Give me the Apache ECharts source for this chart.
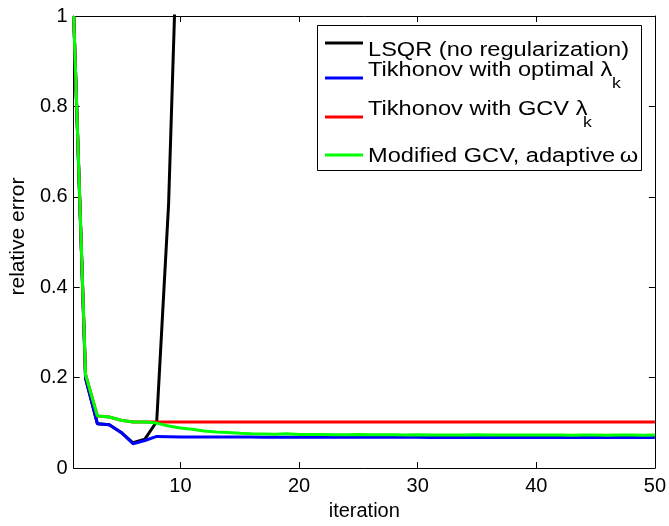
<!DOCTYPE html>
<html>
<head>
<meta charset="utf-8">
<script src="https://cdn.jsdelivr.net/npm/echarts@6/dist/echarts.min.js"></script>
<style>
html,body{margin:0;padding:0;background:#fff;}
#c{width:669px;height:526px;}
</style>
</head>
<body>
<div id="c"></div>
<script>
// ---- data ----
const iterations = [1,2,3,4,5,6,7,8,9,10,11,12,13,14,15,16,17,18,19,20,21,22,23,24,25,26,27,28,29,30,31,32,33,34,35,36,37,38,39,40,41,42,43,44,45,46,47,48,49,50];
const lsqr = [1.0,0.198,0.098,0.096,0.079,0.056,0.064,0.103,0.584,1.42];
const tikhOptimal = [1.0,0.199,0.098,0.096,0.079,0.054,0.061,0.0700,0.0695,0.0690,0.0690,0.0690,0.0688,0.0688,0.0686,0.0686,0.0685,0.0685,0.0684,0.0684,0.0683,0.0683,0.0682,0.0682,0.0681,0.0681,0.0680,0.0680,0.0680,0.0680,0.0679,0.0679,0.0679,0.0679,0.0678,0.0678,0.0678,0.0678,0.0678,0.0678,0.0677,0.0677,0.0677,0.0677,0.0677,0.0677,0.0677,0.0677,0.0677,0.0677];
const tikhGCV = [1.0,0.207,0.115,0.113,0.106,0.102,0.102,0.1017,0.1017,0.1017,0.1017,0.1017,0.1017,0.1017,0.1017,0.1017,0.1017,0.1017,0.1017,0.1017,0.1017,0.1017,0.1017,0.1017,0.1017,0.1017,0.1017,0.1017,0.1017,0.1017,0.1017,0.1017,0.1017,0.1017,0.1017,0.1017,0.1017,0.1017,0.1017,0.1017,0.1017,0.1017,0.1017,0.1017,0.1017,0.1017,0.1017,0.1017,0.1017,0.1017];
const modGCV = [1.0,0.207,0.115,0.113,0.106,0.102,0.102,0.0995,0.093,0.0886,0.0857,0.082,0.080,0.0785,0.077,0.0762,0.0756,0.075,0.0762,0.0745,0.0742,0.0745,0.074,0.0738,0.0742,0.0736,0.0735,0.0737,0.0733,0.0735,0.0732,0.0734,0.0731,0.0733,0.0736,0.0731,0.073,0.0732,0.073,0.0733,0.0731,0.073,0.0729,0.0731,0.073,0.0729,0.073,0.0731,0.0729,0.073];
const xTicks = [10,20,30,40,50];
const yTicks = [0,0.2,0.4,0.6,0.8,1];
const seriesNames = ['LSQR (no regularization)','Tikhonov with optimal λk','Tikhonov with GCV λk','Modified GCV, adaptive ω'];
const legendMain = ['LSQR (no regularization)','Tikhonov with optimal λ','Tikhonov with GCV λ','Modified GCV, adaptive\u2009ω'];
const legendSub = ['','k','k',''];
const xAxisTitle = 'iteration';
const yAxisTitle = 'relative error';

// ---- styling ----
const FONT = '"Liberation Sans", Arial, Helvetica, sans-serif';
const colors = ['#000000','#0000ff','#ff0000','#00ff00'];
const seriesData = [lsqr, tikhOptimal, tikhGCV, modGCV];

function pairs(vals){ return vals.map((v,i)=>[iterations[i], v]); }

const chart = echarts.init(document.getElementById('c'), null, {renderer:'canvas'});

const axisLine = {show:true, onZero:false, lineStyle:{color:'#000', width:1}};
const tickStyle = {color:'#000', width:1};

// legend layout (positions only)
const legBox = {x:317.5, y:25.5, w:324, h:145};
const rowLineY = [43, 78, 117, 155];
const rowTextY = [50.5, 70.5, 109.5, 156];
const subPos = [null, {x:612, y:83.5}, {x:583, y:122.5}, null];
const SX = 1.18;

const graphics = [{
  type:'rect', z:100,
  shape:{x:legBox.x, y:legBox.y, width:legBox.w, height:legBox.h},
  style:{fill:'#fff', stroke:'#000', lineWidth:1}
}];
legendMain.forEach((t,i)=>{
  graphics.push({type:'line', z:101, shape:{x1:325,y1:rowLineY[i],x2:363,y2:rowLineY[i]}, style:{stroke:colors[i], lineWidth:3}});
  graphics.push({type:'text', z:101, x:368, y:rowTextY[i], scaleX:SX,
    style:{text:t, fontSize:20, fontFamily:FONT, fill:'#000', verticalAlign:'middle', align:'left'}});
  if (legendSub[i]) {
    graphics.push({type:'text', z:101, x:subPos[i].x, y:subPos[i].y, scaleX:SX,
      style:{text:legendSub[i], fontSize:15, fontFamily:FONT, fill:'#000', verticalAlign:'middle', align:'left'}});
  }
});

chart.setOption({
  animation:false,
  backgroundColor:'#fff',
  grid:{left:72.5, right:14, top:16, bottom:51, containLabel:false},
  xAxis:[{
    type:'value', min:1, max:50, position:'bottom',
    axisLine:axisLine,
    axisTick:{show:true, inside:true, length:6, customValues:xTicks, lineStyle:tickStyle},
    axisLabel:{show:true, customValues:xTicks, fontSize:20, color:'#000', fontFamily:FONT, margin:8},
    splitLine:{show:false},
    name:xAxisTitle, nameLocation:'middle', nameGap:29,
    nameTextStyle:{fontSize:20, color:'#000', fontFamily:FONT}
  },{
    type:'value', min:1, max:50, position:'top',
    axisLine:axisLine,
    axisTick:{show:true, inside:true, length:6, customValues:xTicks, lineStyle:tickStyle},
    axisLabel:{show:false}, splitLine:{show:false}
  }],
  yAxis:[{
    type:'value', min:0, max:1, interval:0.2, position:'left',
    axisLine:axisLine,
    axisTick:{show:true, inside:true, length:6, lineStyle:tickStyle},
    axisLabel:{show:true, fontSize:20, color:'#000', fontFamily:FONT, margin:6},
    splitLine:{show:false},
    name:yAxisTitle, nameLocation:'middle', nameGap:41,
    nameTextStyle:{fontSize:21, color:'#000', fontFamily:FONT, padding:[0,0,0,11]}
  },{
    type:'value', min:0, max:1, interval:0.2, position:'right',
    axisLine:axisLine,
    axisTick:{show:true, inside:true, length:6, lineStyle:tickStyle},
    axisLabel:{show:false}, splitLine:{show:false}
  }],
  series: seriesData.map((vals,i)=>({
    name:seriesNames[i], type:'line', xAxisIndex:0, yAxisIndex:0,
    data:pairs(vals), showSymbol:false, symbol:'none', clip:true,
    lineStyle:{color:colors[i], width:3}, itemStyle:{color:colors[i]},
    z:2+i
  })),
  graphic:graphics
});
</script>
</body>
</html>
